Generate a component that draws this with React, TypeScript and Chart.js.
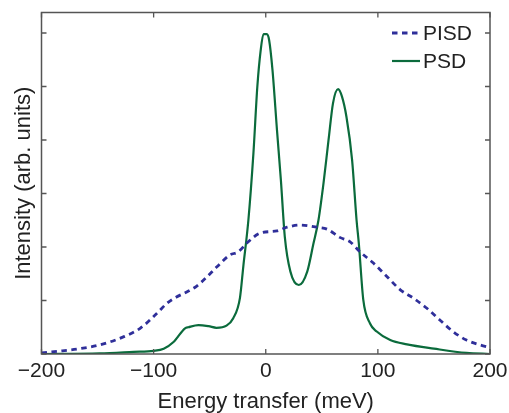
import React, { useEffect, useRef } from "react";
import { Chart, registerables } from "chart.js";

Chart.register(...registerables);

// ---- data ----
const seriesLabels = ["PISD", "PSD"];

const pisdX = [-200, -186, -166, -148, -127, -112, -97, -88, -80, -70.5, -61.5, -52.5, -43.5, -32, -24.5, -17, -5, 10, 19, 30.5, 45.5, 55, 66, 75, 84, 96, 108, 120, 132, 144, 155, 167, 179, 191, 200];
const pisdY = [0.02, 0.05, 0.1, 0.17, 0.32, 0.48, 0.76, 0.95, 1.06, 1.16, 1.27, 1.44, 1.63, 1.85, 1.91, 2.07, 2.26, 2.3, 2.37, 2.41, 2.37, 2.33, 2.18, 2.1, 1.91, 1.7, 1.45, 1.2, 1.04, 0.85, 0.64, 0.42, 0.26, 0.17, 0.12];

const psdX = [-200, -148, -118, -100, -91, -82, -72, -69, -60, -51, -44, -35, -29, -23, -20, -15.5, -11, -7.5, -4.5, -2, 1, 3, 6, 10, 13.5, 17, 22, 29.5, 37, 42.5, 47, 51.5, 56, 60, 64.5, 68, 72, 77, 81, 83, 87, 93, 99, 111, 126, 150, 179, 200];
const psdY = [0, 0.01, 0.04, 0.06, 0.1, 0.23, 0.48, 0.5, 0.54, 0.52, 0.49, 0.53, 0.67, 1.05, 1.64, 2.5, 3.75, 5.0, 5.68, 5.98, 5.98, 5.87, 5.31, 4.19, 3.25, 2.19, 1.54, 1.29, 1.54, 2.06, 2.5, 3.19, 4.0, 4.69, 4.95, 4.81, 4.43, 3.63, 2.5, 2.07, 1.01, 0.57, 0.42, 0.26, 0.18, 0.1, 0.02, 0];

const xTicks = [-200, -100, 0, 100, 200];
const yTicks = [0, 1, 2, 3, 4, 5, 6];

const xTitle = "Energy transfer (meV)";
const yTitle = "Intensity (arb. units)";

const BLUE = "#2f2f9a";
const GREEN = "#0b6b3c";
const FRAME = "#555555";
const TEXT = "#222222";
const FONT = "'Liberation Sans', Arial, sans-serif";

const framePlugin = {
  id: "frameTicks",
  afterDatasetsDraw(chart: any) {
    const { ctx, chartArea, scales } = chart;
    const { left, right, top, bottom } = chartArea;
    const xs = scales.x;
    const ys = scales.y;
    const L = 5;
    ctx.save();
    ctx.strokeStyle = FRAME;
    ctx.lineWidth = 1.3;
    ctx.beginPath();
    for (const v of xTicks) {
      const px = xs.getPixelForValue(v);
      ctx.moveTo(px, bottom);
      ctx.lineTo(px, bottom - L);
      ctx.moveTo(px, top);
      ctx.lineTo(px, top + L);
    }
    for (const v of yTicks) {
      const py = ys.getPixelForValue(v);
      ctx.moveTo(left, py);
      ctx.lineTo(left + L, py);
      ctx.moveTo(right, py);
      ctx.lineTo(right - L, py);
    }
    ctx.stroke();
    ctx.lineWidth = 1.5;
    ctx.strokeRect(left, top, right - left, bottom - top);

    // legend
    const items = chart.data.datasets;
    const lx0 = 392;
    const lx1 = 420;
    const ys0 = [33, 61];
    ctx.font = `21px ${FONT}`;
    ctx.textBaseline = "middle";
    ctx.textAlign = "left";
    items.forEach((ds: any, i: number) => {
      const y = ys0[i];
      ctx.beginPath();
      ctx.strokeStyle = ds.borderColor;
      ctx.lineWidth = ds.borderWidth;
      ctx.setLineDash(ds.borderDash || []);
      ctx.moveTo(lx0, y);
      ctx.lineTo(lx1, y);
      ctx.stroke();
      ctx.setLineDash([]);
      ctx.fillStyle = TEXT;
      ctx.fillText(ds.label, 423, y + 1);
    });
    ctx.restore();
  },
};

export default function App() {
  const ref = useRef<HTMLCanvasElement | null>(null);

  useEffect(() => {
    if (!ref.current) return;
    const chart = new Chart(ref.current, {
      type: "line",
      data: {
        datasets: [
          {
            label: seriesLabels[0],
            data: pisdX.map((x, i) => ({ x, y: pisdY[i] })),
            borderColor: BLUE,
            borderWidth: 2.8,
            borderDash: [5.5, 4.5],
            pointRadius: 0,
            cubicInterpolationMode: "monotone",
            fill: false,
          },
          {
            label: seriesLabels[1],
            data: psdX.map((x, i) => ({ x, y: psdY[i] })),
            borderColor: GREEN,
            borderWidth: 2.2,
            pointRadius: 0,
            cubicInterpolationMode: "monotone",
            fill: false,
          },
        ],
      },
      options: {
        responsive: false,
        animation: false,
        devicePixelRatio: 1,
        layout: { padding: { top: 12.5, right: 19, left: 0, bottom: 0 } },
        plugins: { legend: { display: false }, tooltip: { enabled: false } },
        scales: {
          x: {
            type: "linear",
            min: -200,
            max: 200,
            afterBuildTicks: (s: any) => {
              s.ticks = xTicks.map((v) => ({ value: v }));
            },
            afterFit: (s: any) => {
              s.height = 59;
              s.paddingLeft = 0;
              s.paddingRight = 0;
            },
            grid: { display: false, drawTicks: false },
            border: { display: false },
            ticks: {
              padding: 5,
              color: TEXT,
              font: { family: FONT, size: 21 },
              maxRotation: 0,
              callback: (v: any) => String(v).replace("-", "\u2212"),
            },
            title: {
              display: true,
              text: xTitle,
              color: TEXT,
              font: { family: FONT, size: 22, lineHeight: 1 },
              padding: { top: 0, bottom: 0 },
            },
          },
          y: {
            type: "linear",
            min: 0,
            max: 6.383,
            afterFit: (s: any) => {
              s.width = 41.5;
              s.paddingTop = 0;
              s.paddingBottom = 0;
            },
            grid: { display: false, drawTicks: false },
            border: { display: false },
            ticks: { display: false },
            title: {
              display: true,
              text: yTitle,
              color: TEXT,
              font: { family: FONT, size: 22, lineHeight: 1 },
              padding: { top: 13, bottom: 0 },
            },
          },
        },
      },
      plugins: [framePlugin],
    } as any);
    return () => chart.destroy();
  }, []);

  return (
    <div style={{ position: "absolute", left: 0, top: 0, width: 509, height: 413, background: "#fff" }}>
      <canvas ref={ref} width={509} height={413} style={{ width: 509, height: 413, display: "block" }} />
    </div>
  );
}
